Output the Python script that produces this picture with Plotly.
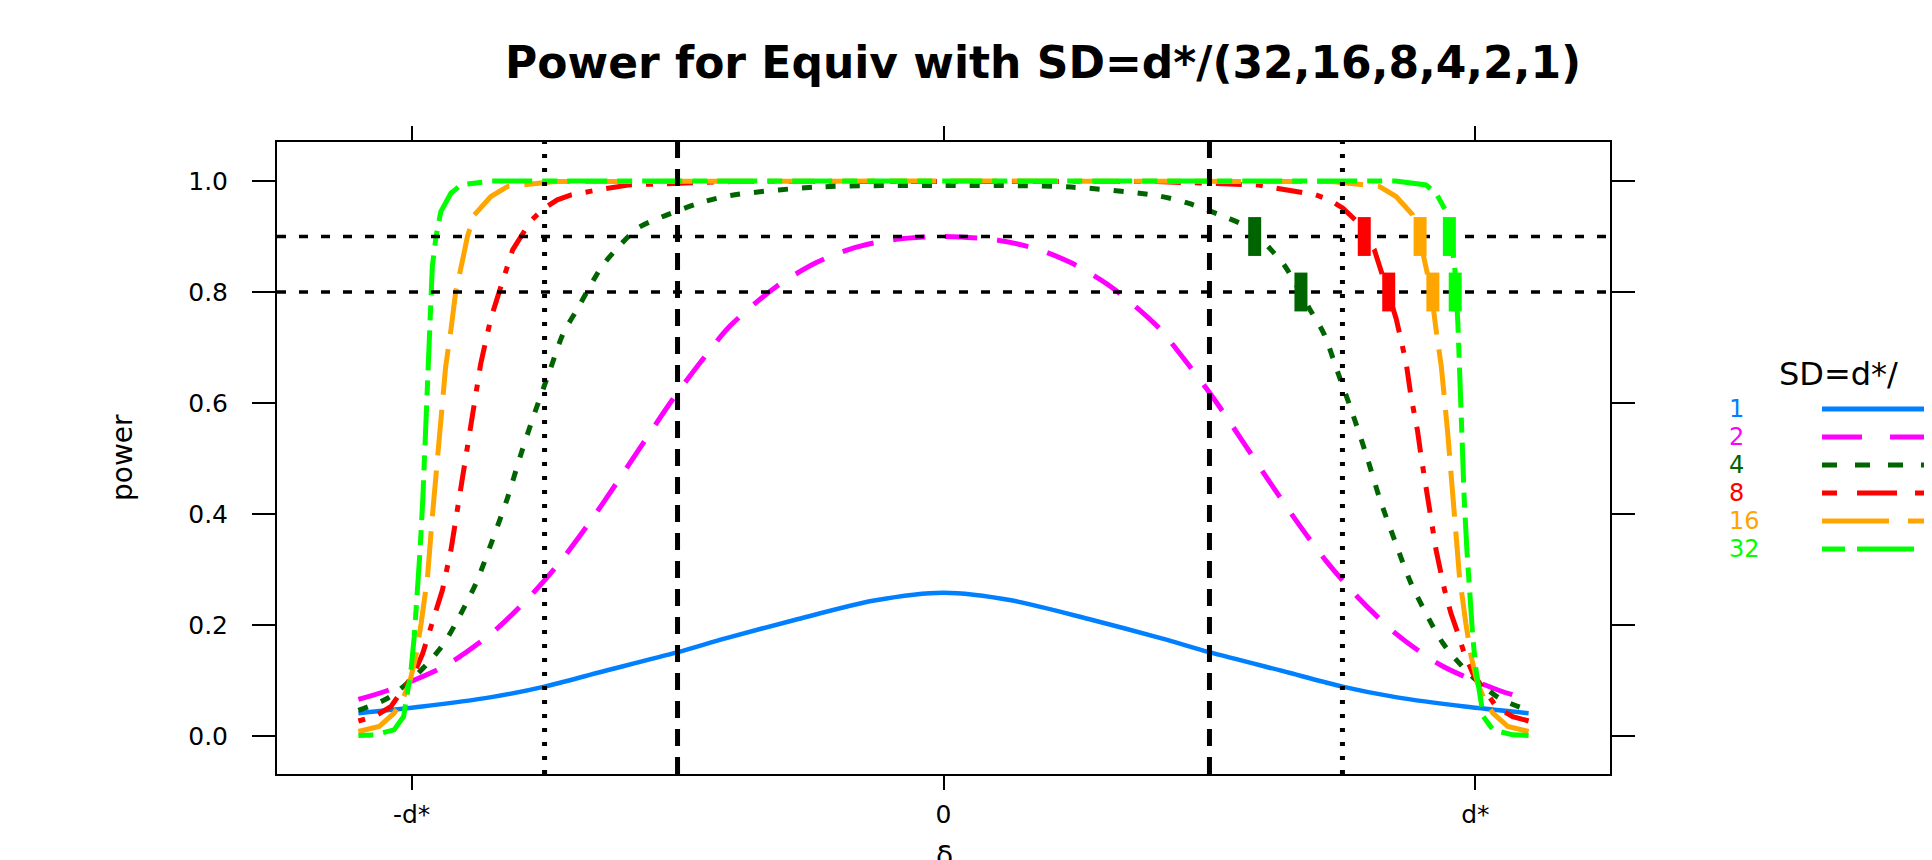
import plotly.graph_objects as go

# page adds an 8px body margin; figure is sized so it ends at the window edge
OFF = 8
W, H = 1932 - OFF, 860 - OFF

# ---------------- data ----------------
sd_labels = ["1", "2", "4", "8", "16", "32"]
colors = ["#0080ff", "#ff00ff", "#006400", "#ff0000", "#ffa500", "#00ff00"]

x_sd1 = [-1.1, -0.98, -0.85, -0.75, -0.65, -0.5, -0.41, -0.28, -0.13, 0,
         0.13, 0.28, 0.41, 0.5, 0.65, 0.75, 0.85, 0.98, 1.1]
y_sd1 = [0.041, 0.053, 0.070, 0.089, 0.114, 0.151, 0.176, 0.209, 0.244, 0.258,
         0.244, 0.209, 0.176, 0.151, 0.114, 0.089, 0.070, 0.053, 0.041]

x_sd2 = [-1.1, -1.045, -0.936, -0.851, -0.778, -0.718, -0.663, -0.613, -0.563, -0.511,
         -0.458, -0.401, -0.314, -0.239, -0.177, -0.105, 0,
         0.105, 0.177, 0.239, 0.314, 0.401, 0.458, 0.511, 0.563, 0.613, 0.663, 0.718,
         0.778, 0.851, 0.936, 1.045, 1.1]
y_sd2 = [0.066, 0.082, 0.127, 0.184, 0.251, 0.317, 0.388, 0.458, 0.530, 0.604,
         0.672, 0.739, 0.810, 0.853, 0.877, 0.893, 0.900,
         0.893, 0.877, 0.853, 0.810, 0.739, 0.672, 0.604, 0.530, 0.458, 0.388, 0.317,
         0.251, 0.184, 0.127, 0.082, 0.066]

x_sd4 = [-1.1, -1.045, -1.001, -0.967, -0.939, -0.917, -0.879, -0.848, -0.820, -0.795,
         -0.769, -0.741, -0.715, -0.688, -0.643, -0.616, -0.575, -0.53, -0.46, -0.40,
         -0.24, 0,
         0.24, 0.40, 0.46, 0.53, 0.575, 0.616, 0.643, 0.688, 0.715, 0.741,
         0.769, 0.795, 0.820, 0.848, 0.879, 0.917, 0.939, 0.967, 1.001, 1.045, 1.1]
y_sd4 = [0.046, 0.068, 0.101, 0.134, 0.167, 0.203, 0.275, 0.353, 0.428, 0.506,
         0.581, 0.656, 0.725, 0.770, 0.845, 0.876, 0.915, 0.935, 0.960, 0.974,
         0.989, 0.992,
         0.989, 0.974, 0.960, 0.935, 0.915, 0.876, 0.845, 0.770, 0.725, 0.656,
         0.581, 0.506, 0.428, 0.353, 0.275, 0.203, 0.167, 0.134, 0.101, 0.068, 0.046]

x_sd8 = [-1.1, -1.07, -1.039, -1.017, -0.995, -0.979, -0.967, -0.954, -0.942, -0.926,
         -0.91, -0.898, -0.891, -0.879, -0.87, -0.86, -0.851, -0.835, -0.81, -0.776,
         -0.751, -0.726, -0.70, -0.65, -0.59, -0.40, 0,
         0.40, 0.59, 0.65, 0.70, 0.726, 0.751, 0.776, 0.81, 0.835, 0.851,
         0.86, 0.87, 0.879, 0.891, 0.898, 0.91, 0.926, 0.942, 0.954, 0.967,
         0.979, 0.995, 1.017, 1.039, 1.07, 1.1]
y_sd8 = [0.027, 0.035, 0.053, 0.083, 0.113, 0.149, 0.185, 0.221, 0.263, 0.335,
         0.431, 0.503, 0.551, 0.611, 0.671, 0.714, 0.752, 0.801, 0.876, 0.928,
         0.951, 0.966, 0.975, 0.984, 0.993, 0.999, 1.0,
         0.999, 0.993, 0.984, 0.975, 0.966, 0.951, 0.928, 0.876, 0.801, 0.752,
         0.714, 0.671, 0.611, 0.551, 0.503, 0.431, 0.335, 0.263, 0.221, 0.185,
         0.149, 0.113, 0.083, 0.053, 0.035, 0.027]

x_sd16 = [-1.1, -1.061, -1.033, -1.02, -1.004, -0.992, -0.982, -0.97, -0.961, -0.948,
          -0.936, -0.926, -0.917, -0.904, -0.895, -0.882, -0.851, -0.82, -0.73, 0,
          0.73, 0.82, 0.851, 0.882, 0.895, 0.904, 0.917, 0.926, 0.936, 0.948,
          0.961, 0.97, 0.982, 0.992, 1.004, 1.02, 1.033, 1.061, 1.1]
y_sd16 = [0.008, 0.017, 0.041, 0.059, 0.095, 0.143, 0.203, 0.287, 0.395, 0.545,
          0.665, 0.732, 0.801, 0.858, 0.900, 0.939, 0.972, 0.990, 0.999, 1.0,
          0.999, 0.990, 0.972, 0.939, 0.900, 0.858, 0.801, 0.732, 0.665, 0.545,
          0.395, 0.287, 0.203, 0.143, 0.095, 0.059, 0.041, 0.017, 0.008]

x_sd32 = [-1.1, -1.07, -1.033, -1.015, -1.008, -1.001, -0.995, -0.989, -0.984, -0.979,
          -0.976, -0.973, -0.97, -0.967, -0.964, -0.961, -0.954, -0.945, -0.926, -0.907,
          -0.85, 0,
          0.85, 0.907, 0.926, 0.945, 0.954, 0.961, 0.964, 0.967, 0.97, 0.973,
          0.976, 0.979, 0.984, 0.989, 0.995, 1.001, 1.008, 1.015, 1.033, 1.07, 1.1]
y_sd32 = [0.001, 0.002, 0.011, 0.035, 0.077, 0.119, 0.179, 0.257, 0.335, 0.425,
          0.494, 0.575, 0.665, 0.744, 0.801, 0.846, 0.900, 0.945, 0.978, 0.993,
          1.0, 1.0,
          1.0, 0.993, 0.978, 0.945, 0.900, 0.846, 0.801, 0.744, 0.665, 0.575,
          0.494, 0.425, 0.335, 0.257, 0.179, 0.119, 0.077, 0.035, 0.011, 0.002, 0.001]

curve_x = [x_sd1, x_sd2, x_sd4, x_sd8, x_sd16, x_sd32]
curve_y = [y_sd1, y_sd2, y_sd4, y_sd8, y_sd16, y_sd32]

# crossing points of power 0.9 and 0.8 (thick marks), for SD=d*/4,8,16,32
mark_levels = [0.9, 0.8]
mark_colors = ["#006400", "#ff0000", "#ffa500", "#00ff00"]
mark_x_090 = [0.585, 0.791, 0.896, 0.951]
mark_x_080 = [0.672, 0.837, 0.920, 0.962]

# reference lines
hlines = [0.8, 0.9]
vlines_dashed = [-0.5, 0.5]
vlines_dotted = [-0.75, 0.75]

x_tickvals = [-1, 0, 1]
x_ticktext = ["-d*", "0", "d*"]
y_tickvals = [0, 0.2, 0.4, 0.6, 0.8, 1.0]
y_ticktext = ["0.0", "0.2", "0.4", "0.6", "0.8", "1.0"]

XR = [-1.253, 1.253]
YR = [-0.0685, 1.0703]


# ---------------- layout helpers (window pixels -> figure paper) ----------------
def fx(px):
    return (px - OFF) / W


def fy(py):
    return 1 - (py - OFF) / H


FONT = "DejaVu Sans"
dash_main = ["solid", "32px,20px", "10px,14px", "7px,14px,26px,14px",
             "46px,15px", "15px,10px,40px,10px"]
dash_leg = ["solid", "40px,28px", "15px,18px", "15px,20px,40px,18px",
            "67px,19px", "23px,12px,57px,12px"]
widths = [4.5, 5, 5, 5, 5, 5]
shapes_ln = ["spline", "spline", "spline", "linear", "linear", "linear"]
MARK_HALF = 0.035

fig = go.Figure()

for i in range(6):
    fig.add_trace(go.Scatter(
        x=curve_x[i], y=curve_y[i], mode="lines",
        line=dict(color=colors[i], width=widths[i], dash=dash_main[i],
                  shape=shapes_ln[i], smoothing=0.8 if shapes_ln[i] == "spline" else None),
        hoverinfo="skip", showlegend=False))

for v in hlines:
    fig.add_trace(go.Scatter(x=XR, y=[v, v], mode="lines",
                             line=dict(color="black", width=3.5, dash="9px,13px"),
                             hoverinfo="skip", showlegend=False))
for v in vlines_dashed:
    fig.add_trace(go.Scatter(x=[v, v], y=YR, mode="lines",
                             line=dict(color="black", width=5, dash="17px,11px"),
                             hoverinfo="skip", showlegend=False))
for v in vlines_dotted:
    fig.add_trace(go.Scatter(x=[v, v], y=YR, mode="lines",
                             line=dict(color="black", width=5, dash="4px,10px"),
                             hoverinfo="skip", showlegend=False))

for j, c in enumerate(mark_colors):
    xs, ys = [], []
    for lvl, xv in zip(mark_levels, [mark_x_090[j], mark_x_080[j]]):
        xs += [xv, xv, None]
        ys += [lvl - MARK_HALF, lvl + MARK_HALF, None]
    fig.add_trace(go.Scatter(x=xs, y=ys, mode="lines",
                             line=dict(color=c, width=13),
                             hoverinfo="skip", showlegend=False))

# legend (key lines on their own small axis)
for i in range(6):
    fig.add_trace(go.Scatter(x=[0, 1], y=[i, i], xaxis="x2", yaxis="y2", mode="lines",
                             line=dict(color=colors[i], width=5, dash=dash_leg[i]),
                             hoverinfo="skip", showlegend=False))

# legend axis: rows 0..5 at window y = 409 + 28*row
leg_top, leg_bot = 344, 602
ROW0, ROWSTEP = 409, 28
leg_range = [(leg_bot - ROW0) / ROWSTEP, (leg_top - ROW0) / ROWSTEP]

annotations = []
for i in range(6):
    annotations.append(dict(text=sd_labels[i], xref="paper", yref="y2",
                            x=fx(1727), y=i, xanchor="left", yanchor="middle",
                            showarrow=False, font=dict(family=FONT, size=24, color=colors[i])))
annotations.append(dict(text="SD=d*/", xref="paper", yref="y2", x=fx(1838),
                        y=(374 - ROW0) / ROWSTEP,
                        xanchor="center", yanchor="middle", showarrow=False,
                        font=dict(family=FONT, size=32, color="black")))
annotations.append(dict(text="<b>Power for Equiv with SD=d*/(32,16,8,4,2,1)</b>",
                        xref="paper", yref="paper", x=fx(1043), y=fy(62),
                        xanchor="center", yanchor="middle", showarrow=False,
                        font=dict(family=FONT, size=44, color="black")))
annotations.append(dict(text="power", xref="paper", yref="paper", x=fx(123), y=fy(458),
                        xanchor="center", yanchor="middle", textangle=-90, showarrow=False,
                        font=dict(family=FONT, size=28, color="black")))
annotations.append(dict(text="δ", xref="paper", yref="paper", x=fx(944), y=fy(838),
                        xanchor="center", yanchor="top", showarrow=False,
                        font=dict(family=FONT, size=28, color="black")))

axis_common = dict(ticks="outside", tickwidth=2, tickcolor="black", showline=True,
                   linecolor="black", linewidth=2, mirror="ticks", showgrid=False,
                   zeroline=False)

fig.update_layout(
    width=W, height=H, margin=dict(l=0, r=0, t=0, b=0),
    paper_bgcolor="white", plot_bgcolor="white", showlegend=False,
    xaxis=dict(domain=[fx(277), fx(1610)], range=XR, tickmode="array",
               tickvals=x_tickvals, ticktext=x_ticktext, ticklen=14,
               ticklabelstandoff=3, tickfont=dict(family=FONT, size=25, color="black"),
               **axis_common),
    yaxis=dict(domain=[fy(774), fy(142)], range=YR, tickmode="array",
               tickvals=y_tickvals, ticktext=y_ticktext, ticklen=23,
               ticklabelstandoff=19, tickfont=dict(family=FONT, size=25, color="black"),
               **axis_common),
    xaxis2=dict(domain=[fx(1822), 1.0], range=[0, 1], visible=False, anchor="y2"),
    yaxis2=dict(domain=[fy(leg_bot), fy(leg_top)], range=leg_range, visible=False,
                anchor="x2"),
    annotations=annotations,
)

fig.write_html("out.html")
